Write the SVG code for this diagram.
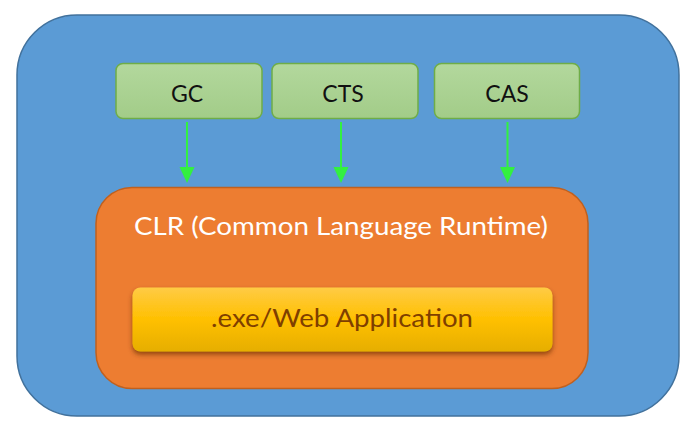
<svg xmlns="http://www.w3.org/2000/svg" width="695" height="433" viewBox="0 0 695 433">
<defs>
<linearGradient id="gGreen" x1="0" y1="0" x2="0" y2="1"><stop offset="0" stop-color="#B3D89D"/><stop offset="1" stop-color="#A2CC88"/></linearGradient>
<linearGradient id="gYellow" x1="0" y1="0" x2="0" y2="1"><stop offset="0" stop-color="#FFCB45"/><stop offset="0.5" stop-color="#FFC000"/><stop offset="1" stop-color="#E6AE00"/></linearGradient>
<filter id="shadow" x="-10%" y="-20%" width="120%" height="160%"><feDropShadow dx="0" dy="3" stdDeviation="2.5" flood-color="#6B2E00" flood-opacity="0.7"/></filter>
<marker id="arr" markerWidth="16" markerHeight="16" refX="8" refY="16" orient="auto-start-reverse" markerUnits="userSpaceOnUse" viewBox="0 0 16 16"><path d="M0,0 L16,0 L8,16 Z" fill="#33F040" transform="rotate(0)"/></marker>
</defs>
<style>
.lbl{font-family:"Lato","Open Sans","Liberation Sans",sans-serif;text-anchor:middle}
.green{fill:url(#gGreen);stroke:#6FAD47;stroke-width:1.5}
.conn{stroke:#33F040;stroke-width:2;fill:none}
</style>
<g id="outer"><rect x="17" y="15" width="662" height="401" rx="60" ry="60" fill="#5B9BD5" stroke="#41719C" stroke-width="1.5"/></g>
<g id="clr"><rect x="96" y="187.5" width="492" height="201" rx="36" ry="36" fill="#ED7D31" stroke="#C0601E" stroke-width="1.5"/>
<text class="lbl" x="341" y="235" font-size="25" fill="#FFFFFF" textLength="414" lengthAdjust="spacingAndGlyphs">CLR (Common Language Runtime)</text></g>
<g id="app"><rect x="132.5" y="287.5" width="420" height="64" rx="8" ry="8" fill="url(#gYellow)" filter="url(#shadow)"/>
<text class="lbl" x="342" y="327" font-size="25" fill="#7F3F00" textLength="262" lengthAdjust="spacingAndGlyphs">.exe/Web Application</text></g>
<g id="gc"><rect class="green" x="116" y="63.5" width="146" height="55" rx="7"/><text class="lbl" x="187" y="102" font-size="23" fill="#111">GC</text></g>
<g id="cts"><rect class="green" x="272" y="63.5" width="146" height="55" rx="7"/><text class="lbl" x="343" y="102" font-size="23" fill="#111">CTS</text></g>
<g id="cas"><rect class="green" x="434.5" y="63.5" width="145" height="55" rx="7"/><text class="lbl" x="507" y="102" font-size="23" fill="#111">CAS</text></g>
<g id="connectors">
<line class="conn" x1="187" y1="122" x2="187" y2="168"/><path d="M179.5,167 L194.5,167 L187,183 Z" fill="#33F040"/>
<line class="conn" x1="341" y1="122" x2="341" y2="168"/><path d="M333.5,167 L348.5,167 L341,183 Z" fill="#33F040"/>
<line class="conn" x1="507.5" y1="122" x2="507.5" y2="168"/><path d="M500,167 L515,167 L507.5,183 Z" fill="#33F040"/>
</g>
</svg>
